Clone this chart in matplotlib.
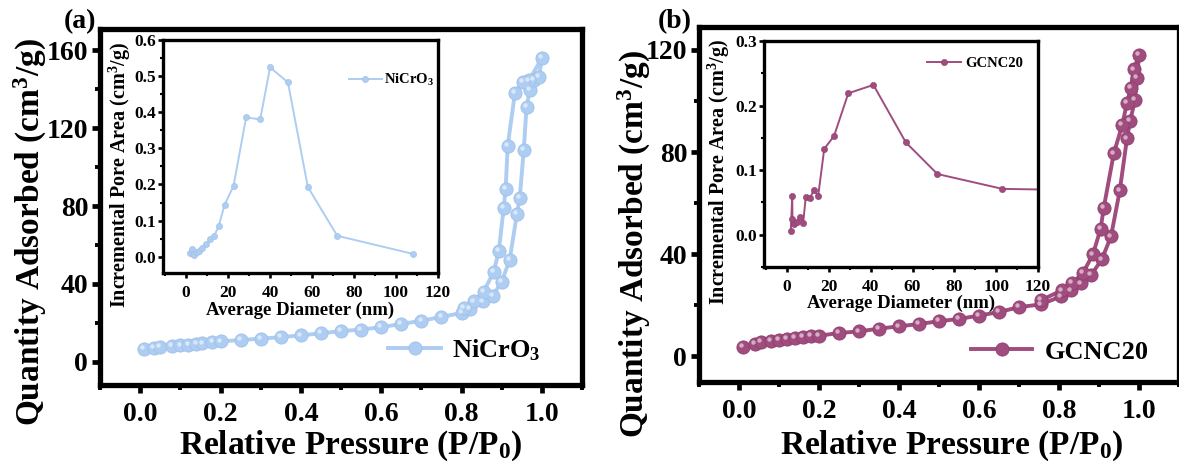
import matplotlib
matplotlib.use('Agg')
import matplotlib.pyplot as plt
from matplotlib.ticker import MultipleLocator
import matplotlib.transforms as mtransforms

plt.rcParams['font.family'] = ['Liberation Serif', 'DejaVu Serif']
plt.rcParams['font.weight'] = 'bold'
plt.rcParams['mathtext.fontset'] = 'custom'
plt.rcParams['mathtext.rm'] = 'Liberation Serif:bold'
plt.rcParams['mathtext.it'] = 'Liberation Serif:bold'
plt.rcParams['mathtext.bf'] = 'Liberation Serif:bold'

# isotherm, NiCrO3 (adsorption then desorption)
nicro_ads_p = [0.01, 0.035, 0.05, 0.08, 0.10, 0.12, 0.14, 0.155, 0.18, 0.20, 0.25, 0.30, 0.35,
               0.40, 0.45, 0.50, 0.55, 0.60, 0.65, 0.70, 0.75, 0.80, 0.82, 0.854, 0.878, 0.90,
               0.92, 0.938, 0.945, 0.955, 0.962, 0.97, 0.98, 0.993, 1.0]
nicro_ads_q = [6.5, 7.0, 7.6, 7.9, 8.4, 8.8, 9.1, 9.4, 10.0, 10.4, 11.1, 11.8, 12.6,
               13.5, 14.6, 15.7, 16.5, 17.7, 19.4, 21.0, 23.0, 25.0, 27.0, 31.0, 34.0, 41.0,
               52.5, 76.0, 84.0, 109.0, 131.0, 139.5, 145.0, 146.5, 156.0]
nicro_des_p = [0.968, 0.953, 0.933, 0.915, 0.91, 0.905, 0.893, 0.88, 0.855, 0.83, 0.805]
nicro_des_q = [144.6, 144.0, 138.0, 111.0, 89.0, 79.0, 57.0, 46.0, 36.0, 31.0, 27.5]

# isotherm, GCNC20
gcnc_ads_p = [0.01, 0.04, 0.055, 0.08, 0.10, 0.12, 0.14, 0.16, 0.18, 0.20, 0.25, 0.30, 0.35,
              0.40, 0.45, 0.50, 0.55, 0.60, 0.65, 0.70, 0.755, 0.805, 0.83, 0.854, 0.88, 0.907,
              0.93, 0.952, 0.97, 0.978, 0.99, 0.995, 1.0]
gcnc_ads_q = [3.9, 5.0, 5.6, 6.2, 6.6, 7.0, 7.2, 7.6, 7.9, 8.1, 9.2, 9.8, 10.9,
              11.8, 12.7, 13.8, 14.7, 16.0, 17.4, 19.3, 20.4, 23.5, 25.9, 28.6, 31.8, 38.0,
              47.0, 65.0, 85.4, 92.3, 100.4, 109.0, 118.0]
gcnc_des_p = [0.9875, 0.979, 0.97, 0.958, 0.937, 0.912, 0.904, 0.885, 0.86, 0.833, 0.807, 0.755]
gcnc_des_q = [112.4, 105.0, 99.3, 90.6, 79.5, 58.3, 50.0, 40.0, 32.7, 28.7, 25.9, 22.0]

# pore size distribution insets
nicro_d = [2.0, 2.6, 3.2, 4.0, 5.0, 6.2, 7.8, 9.5, 11.5, 13.3, 15.5, 18.3, 22.6, 28.6,
           35.3, 40.0, 48.5, 58.0, 72.0, 108.0]
nicro_area = [0.010, 0.022, 0.008, 0.004, 0.012, 0.017, 0.023, 0.035, 0.048, 0.057, 0.084,
              0.143, 0.196, 0.386, 0.380, 0.524, 0.483, 0.193, 0.058, 0.008]
gcnc_d = [1.8, 2.5, 2.6, 3.4, 4.6, 6.3, 7.7, 9.0, 11.0, 12.8, 14.9, 17.8, 22.5, 29.3,
          41.3, 56.8, 71.9, 103.0, 140.0]
gcnc_area = [0.005, 0.060, 0.025, 0.017, 0.019, 0.027, 0.018, 0.059, 0.057, 0.069, 0.060,
             0.133, 0.153, 0.219, 0.232, 0.143, 0.094, 0.071, 0.069]

blue = '#aecdf2'
blue_edge = '#9fc0e8'
mauve = '#a04c7e'
mauve_edge = '#8e3f6e'

W, H = 1179, 462
fig = plt.figure(figsize=(W / 100, H / 100), dpi=100)


def px(l, r, t, b):
    return [l / W, (H - b) / H, (r - l) / W, (b - t) / H]


def style_main(ax):
    for s in ax.spines.values():
        s.set_linewidth(3.8)
    ax.tick_params(which='major', direction='out', length=5.5, width=3.4, labelsize=20,
                   top=False, right=False)
    ax.tick_params(which='minor', direction='out', length=3.5, width=2.8, top=False, right=False)
    ax.tick_params(axis='x', which='major', pad=7)
    ax.tick_params(axis='y', which='major', pad=3)
    ax.xaxis.set_major_locator(MultipleLocator(0.2))
    ax.xaxis.set_minor_locator(MultipleLocator(0.1))
    ax.set_xlim(-0.1, 1.1)


def style_inset(ax):
    for s in ax.spines.values():
        s.set_linewidth(2.4)
    ax.tick_params(which='major', direction='out', length=3.5, width=1.9, labelsize=12.5,
                   top=False, right=False)
    ax.tick_params(which='minor', direction='out', length=2, width=1.5, top=False, right=False)
    ax.tick_params(axis='x', which='major', pad=5)
    ax.tick_params(axis='y', which='major', pad=1.5)
    ax.xaxis.set_major_locator(MultipleLocator(20))
    ax.xaxis.set_minor_locator(MultipleLocator(10))
    ax.set_xlim(-11, 120)
    ax.set_xlabel('Average Diameter (nm)', fontsize=13.5, fontweight='bold', va='center')
    ax.xaxis.set_label_coords(0.5, -0.16)


def iso(ax, p, q, color, edge, label):
    line, = ax.plot(p, q, '-o', color=color, lw=2.8, ms=9.5, mfc=color, mec=edge, mew=0.6,
                    label=label, zorder=3)
    hl = mtransforms.offset_copy(ax.transData, fig=fig, x=-1.8, y=1.8, units='dots')
    ax.plot(p, q, 'o', ms=3.2, color='white', alpha=0.55, mew=0, transform=hl, zorder=4)
    return line


# ---------- panel (a)
ax1 = fig.add_axes(px(100, 582, 29, 385))
style_main(ax1)
h1 = iso(ax1, nicro_ads_p + nicro_des_p, nicro_ads_q + nicro_des_q, blue, blue_edge, 'NiCrO$_3$')
ax1.set_ylim(-12, 171)
ax1.yaxis.set_major_locator(MultipleLocator(40))
ax1.yaxis.set_minor_locator(MultipleLocator(20))
ax1.set_xlabel('Relative Pressure (P/P$_0$)', fontsize=24, fontweight='bold', va='center')
ax1.set_ylabel('Quantity Adsorbed (cm$^3$/g)', fontsize=24, fontweight='bold', va='center')
ax1.xaxis.set_label_coords(0.52, -0.172)
ax1.yaxis.set_label_coords(-0.145, 0.43)
ax1.legend(handles=[h1], loc='center left', bbox_to_anchor=(0.598, 0.098), frameon=False,
           fontsize=19, handlelength=2.0, handletextpad=0.4, borderpad=0, borderaxespad=0)
fig.text(80 / W, 1 - 22 / H, '(a)', fontsize=20, fontweight='bold', ha='center', va='center')

in1 = fig.add_axes(px(163, 438, 40, 273))
style_inset(in1)
l1, = in1.plot(nicro_d, nicro_area, '-o', color=blue, lw=1.4, ms=4.5, mec=blue_edge, mew=0.4,
               label='NiCrO$_3$')
in1.set_ylim(-0.045, 0.6)
in1.yaxis.set_major_locator(MultipleLocator(0.1))
in1.yaxis.set_minor_locator(MultipleLocator(0.05))
in1.set_ylabel('Incremental Pore Area (cm$^3$/g)', fontsize=14.5, fontweight='bold', va='center')
in1.yaxis.set_label_coords(-0.158, 0.42)
in1.legend(handles=[l1], loc='center left', bbox_to_anchor=(0.675, 0.828), frameon=False,
           fontsize=10.5, handlelength=2.3, handletextpad=0.15, borderpad=0, borderaxespad=0)

# ---------- panel (b)
ax2 = fig.add_axes(px(699, 1179, 27, 382))
style_main(ax2)
h2 = iso(ax2, gcnc_ads_p + gcnc_des_p, gcnc_ads_q + gcnc_des_q, mauve, mauve_edge, 'GCNC20')
ax2.set_ylim(-10, 129)
ax2.yaxis.set_major_locator(MultipleLocator(40))
ax2.yaxis.set_minor_locator(MultipleLocator(20))
ax2.set_xlabel('Relative Pressure (P/P$_0$)', fontsize=24, fontweight='bold', va='center')
ax2.set_ylabel('Quantity Adsorbed (cm$^3$/g)', fontsize=24, fontweight='bold', va='center')
ax2.xaxis.set_label_coords(0.527, -0.18)
ax2.yaxis.set_label_coords(-0.135, 0.39)
ax2.legend(handles=[h2], loc='center left', bbox_to_anchor=(0.567, 0.085), frameon=False,
           fontsize=19, handlelength=2.3, handletextpad=0.5, borderpad=0, borderaxespad=0)
fig.text(675 / W, 1 - 22 / H, '(b)', fontsize=20, fontweight='bold', ha='center', va='center')

in2 = fig.add_axes(px(764, 1038, 41, 267))
style_inset(in2)
l2, = in2.plot(gcnc_d, gcnc_area, '-o', color=mauve, lw=1.4, ms=4.5, mec=mauve_edge, mew=0.4,
               label='GCNC20')
in2.set_ylim(-0.05, 0.3)
in2.yaxis.set_major_locator(MultipleLocator(0.1))
in2.yaxis.set_minor_locator(MultipleLocator(0.05))
in2.set_ylabel('Incremental Pore Area (cm$^3$/g)', fontsize=14.5, fontweight='bold', va='center')
in2.yaxis.set_label_coords(-0.165, 0.42)
in2.legend(handles=[l2], loc='center left', bbox_to_anchor=(0.595, 0.90), frameon=False,
           fontsize=10.5, handlelength=2.3, handletextpad=0.3, borderpad=0, borderaxespad=0)

fig.savefig('out.png', dpi=100)
